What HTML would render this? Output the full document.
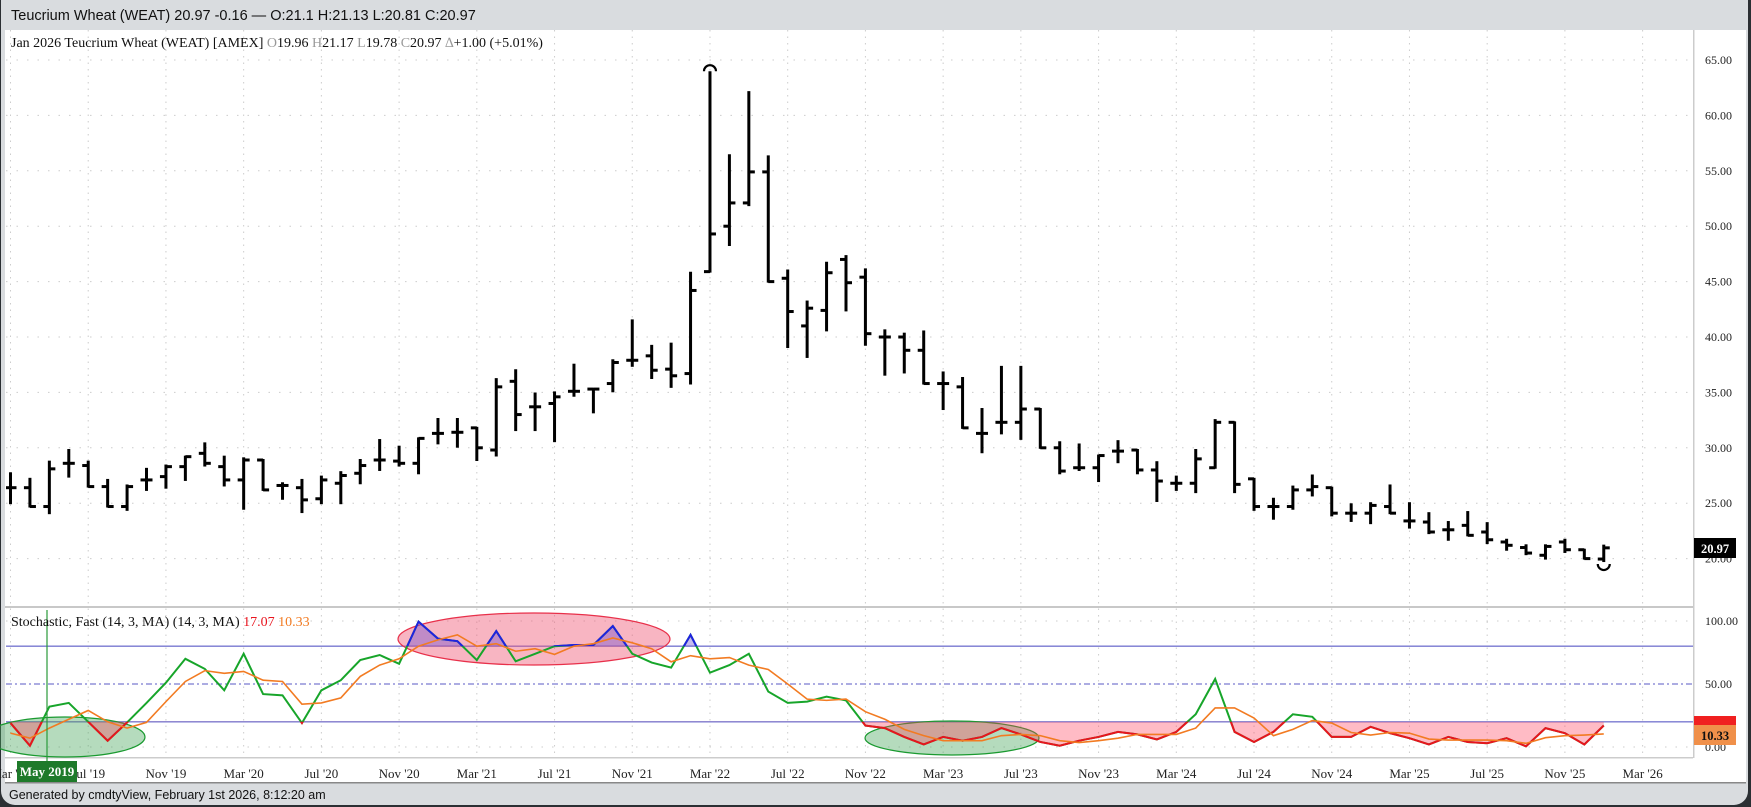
<!DOCTYPE html>
<html><head><meta charset="utf-8"><style>
html,body{margin:0;padding:0;background:#2b2f33;}
#wrap{position:relative;width:1751px;height:807px;overflow:hidden;background:#2b2f33;}
#frame{position:absolute;left:1px;top:0;width:1747px;height:805px;background:#d9dcdf;border-radius:0 0 14px 14px;}
svg{position:absolute;left:0;top:0;}
</style></head><body><div id="wrap"><div id="frame"></div>
<svg id="s" width="1751" height="807" xmlns="http://www.w3.org/2000/svg" font-family="Liberation Serif, serif"></svg>
</div>
<script>
const O=[26.4,26.4,24.7,28.6,28.4,26.5,24.7,27.1,27.4,28.3,29.5,28.3,27.1,28.9,26.6,26.4,25.4,26.8,27.7,28.9,28.8,28.6,31.3,31.4,31.8,29.8,36.0,33.7,34.0,35.1,35.3,35.8,37.9,38.3,37.1,36.7,45.9,50.0,52.1,54.9,45.3,41.0,42.4,47.0,45.4,40.0,40.0,38.8,35.8,35.5,31.3,32.3,32.3,33.5,30.0,28.2,28.2,29.7,29.8,28.0,26.8,26.8,28.2,32.3,27.2,24.7,24.7,26.2,26.4,24.1,24.1,24.7,23.4,23.3,22.6,23.0,22.4,21.5,21.0,20.3,21.5,20.8,19.96];
const H=[27.7,27.2,28.75,29.8,28.75,27.1,26.6,28.1,28.4,29.2,30.4,29.2,29.05,28.9,26.8,27.1,27.4,27.8,28.9,30.7,30.1,30.85,32.6,32.6,31.8,36.2,37.0,34.9,35.0,37.5,35.3,37.9,41.5,39.2,39.4,45.8,63.9,56.4,62.1,56.3,46.0,43.2,46.7,47.3,46.1,40.6,40.3,40.5,36.8,36.3,33.5,37.3,37.3,33.5,30.5,30.3,29.3,30.6,29.8,28.7,27.4,29.8,32.5,32.3,27.2,25.4,26.5,27.5,26.4,24.9,25.0,26.6,25.0,24.1,23.3,24.2,23.2,21.7,21.2,21.2,21.7,20.8,21.17];
const L=[25.0,24.7,24.1,27.4,26.5,24.7,24.4,26.2,26.4,27.1,28.4,26.6,24.5,26.2,25.4,24.2,25.0,25.0,26.8,28.0,28.4,27.7,30.4,30.1,28.9,29.3,31.6,31.6,30.6,34.7,33.2,35.1,37.4,36.3,35.5,35.8,45.9,48.3,51.9,45.0,39.1,38.2,40.6,42.4,39.3,36.6,36.8,35.8,33.5,31.8,29.6,31.3,30.8,30.0,27.7,28.0,27.0,28.7,27.7,25.2,26.2,26.0,28.2,26.0,24.4,23.6,24.5,25.7,23.9,23.4,23.2,24.1,22.8,22.3,21.7,22.1,21.4,20.8,20.4,20.0,20.6,20.0,19.78];
const C=[26.4,24.7,28.1,28.6,26.5,24.7,26.5,27.1,28.3,29.2,28.6,27.1,28.9,26.2,26.6,25.3,27.1,27.5,28.4,28.9,28.6,30.85,31.3,31.4,30.0,35.5,33.0,33.7,34.6,35.1,35.3,37.7,37.9,37.0,36.5,44.2,49.3,52.1,54.9,45.0,42.3,42.6,45.8,44.9,40.3,40.0,38.8,35.8,35.8,31.8,31.3,32.3,33.5,30.0,27.9,28.2,29.3,29.7,28.0,27.0,26.8,29.0,32.3,26.7,24.7,24.7,26.2,26.5,24.1,24.1,24.8,24.1,23.4,22.4,22.6,22.1,21.7,21.2,20.5,21.1,20.8,20.0,20.97];
const K=[19,1,32,35,20,5,19.5,35,51,70,62,45,74,42,41,19,45,53,69,73,66,99.5,86,84,69,92,68,74,80,81,81,96,74,67,63,89,59,65,74,44,35,36,40,37,17,15,8,2,8,5,8,15,10,4,1,5,8,12,10,6,12,26,54,12,4,12,26,24,8,8,16,11,7,2,8,4,3,7,0.5,15,11,2,17.07];
const D=[11,7,15,22,29,20,15,19.5,36,52,60.6,58.5,60,53,52,34,35,39,56,65,70,80,85,89,80,82,76,78,73.5,80,82,86.5,82.7,78,67.6,72.5,70,71,65,61.5,50,38,37,38,28,22,14,9,5,5,5,9,10,9,5,3.5,5,7,10,10,10,15,31,31,23,9,14,21,19,11.5,9.5,11.5,11,6.3,5.5,5.5,5.5,5,2.9,7.4,9,9.5,10.33];
const X=i=>10.5+i*19.43, PY=p=>60+(65-p)*11.08, SY=v=>747-v*1.26;
let s='';
// white panels
s+='<rect x="5" y="30" width="1741" height="753" fill="#fff"/>';
s+='<rect x="1693" y="30" width="1.5" height="728" fill="#ccc"/>';
s+='<rect x="5" y="606" width="1688" height="2" fill="#c8c8c8"/>';
s+='<rect x="5" y="757" width="1688" height="1.5" fill="#ccc"/>';
s+='<rect x="5" y="782" width="1741" height="1.5" fill="#888"/>';
// grids
for(let p=20;p<=65;p+=5){const y=PY(p);s+=`<line x1="6" x2="1693" y1="${y}" y2="${y}" stroke="#ccc" stroke-dasharray="1.5 9"/>`;s+=`<text x="1705" y="${y+4}" font-size="12" fill="#222">${p.toFixed(2)}</text>`;}
[100,0].forEach(v=>{const y=SY(v);s+=`<line x1="6" x2="1693" y1="${y}" y2="${y}" stroke="#ccc" stroke-dasharray="1.5 9"/>`;});
[[100,621],[50,684],[0,747]].forEach(a=>{s+=`<text x="1705" y="${a[1]+4}" font-size="12" fill="#222">${a[0].toFixed(2)}</text>`});
const mon=['Mar','Jul','Nov'];
for(let i=0;i<=84;i+=4){const x=X(i);s+=`<line x1="${x}" x2="${x}" y1="30" y2="757" stroke="#ccc" stroke-dasharray="1.5 5"/>`;
const yr=19+Math.floor((i+2)/12);const lab=mon[(i/4)%3]+" '"+yr;s+=`<text x="${x}" y="778" font-size="13" text-anchor="middle" fill="#222">${lab}</text>`;}
// stoch ref lines
s+=`<line x1="6" x2="1693" y1="${SY(80)}" y2="${SY(80)}" stroke="#7a7ad0" stroke-width="1.3"/>`;
s+=`<line x1="6" x2="1693" y1="${SY(20)}" y2="${SY(20)}" stroke="#7a7ad0" stroke-width="1.3"/>`;
s+=`<line x1="6" x2="1693" y1="${SY(50)}" y2="${SY(50)}" stroke="#7a7ad0" stroke-width="1.2" stroke-dasharray="6 3 2 3"/>`;
// ellipses
s+='<ellipse cx="534" cy="639" rx="136" ry="26" fill="rgba(240,90,120,0.45)" stroke="#e8304a" stroke-width="1.2"/>';
s+='<ellipse cx="65" cy="737" rx="80" ry="20" fill="rgba(70,165,90,0.4)" stroke="#1a9a30" stroke-width="1.2"/>';
s+='<ellipse cx="952" cy="738" rx="87" ry="17" fill="rgba(70,165,90,0.4)" stroke="#1a9a30" stroke-width="1.2"/>';
// bars
s+='<g clip-path="url(#cm)" stroke="#000" stroke-width="3">';
for(let i=0;i<O.length;i++){const x=X(i);s+=`<line x1="${x}" x2="${x}" y1="${PY(H[i])-1}" y2="${PY(L[i])+1}"/><line x1="${x-6}" x2="${x}" y1="${PY(O[i])}" y2="${PY(O[i])}"/><line x1="${x}" x2="${x+6}" y1="${PY(C[i])}" y2="${PY(C[i])}"/>`;}
s+='</g>';
s+=`<path d="M${X(36)-6},${PY(63.9)-1} a6,6 0 0 1 12,0" fill="none" stroke="#000" stroke-width="2.2"/>`;
s+=`<path d="M${X(82)-6},${PY(19.78)+3} a6,6 0 0 0 12,0" fill="none" stroke="#000" stroke-width="2.2"/>`;
// stochastic
let kp=K.map((v,i)=>X(i)+','+SY(v)).join(' '), dp=D.map((v,i)=>X(i)+','+SY(v)).join(' ');
s+='<defs><clipPath id="cm"><rect x="6" y="30" width="1687" height="576"/></clipPath><clipPath id="hi"><rect x="0" y="0" width="1693" height="'+SY(80)+'"/></clipPath><clipPath id="lo"><rect x="0" y="'+SY(20)+'" width="1693" height="60"/></clipPath></defs>';
const x0=X(0),x1=X(K.length-1);
s+=`<polygon clip-path="url(#hi)" points="${x0},${SY(80)} ${kp} ${x1},${SY(80)}" fill="rgba(90,60,210,0.35)"/>`;
s+=`<polygon clip-path="url(#lo)" points="${x0},${SY(20)} ${kp} ${x1},${SY(20)}" fill="rgba(255,60,90,0.35)"/>`;
s+=`<polyline points="${kp}" fill="none" stroke="#17a52a" stroke-width="2"/>`;
s+=`<polyline clip-path="url(#hi)" points="${kp}" fill="none" stroke="#1f22e0" stroke-width="2"/>`;
s+=`<polyline clip-path="url(#lo)" points="${kp}" fill="none" stroke="#e8141e" stroke-width="2"/>`;
s+=`<polyline points="${dp}" fill="none" stroke="#f27b22" stroke-width="1.6"/>`;
// may 2019 marker
s+='<line x1="47" x2="47" y1="610" y2="762" stroke="#2a9a3a" stroke-width="1.2"/>';
s+='<rect x="17" y="761" width="60" height="21" fill="#1e7a2a"/><text x="47" y="776" font-size="13" font-weight="bold" fill="#fff" text-anchor="middle">May 2019</text>';
// tags
s+='<rect x="1694" y="538" width="42" height="20" fill="#000"/><text x="1715" y="553" font-size="12.5" font-weight="bold" fill="#fff" text-anchor="middle">20.97</text>';
s+='<rect x="1694" y="716" width="42" height="10" fill="#f02020"/><rect x="1694" y="725" width="42" height="20" fill="#f0904a"/><text x="1715" y="740" font-size="12.5" font-weight="bold" fill="#111" text-anchor="middle">10.33</text>';
// texts
s+='<text x="11" y="20" font-family="Liberation Sans, sans-serif" font-size="14.5" fill="#111">Teucrium Wheat (WEAT) 20.97 -0.16 — O:21.1 H:21.13 L:20.81 C:20.97</text>';
s+='<text x="11" y="47" font-size="14" fill="#111">Jan 2026 Teucrium Wheat (WEAT) [AMEX] <tspan fill="#999">O</tspan>19.96 <tspan fill="#999">H</tspan>21.17 <tspan fill="#999">L</tspan>19.78 <tspan fill="#999">C</tspan>20.97 <tspan fill="#999">∆</tspan>+1.00 (+5.01%)</text>';
s+='<text x="11" y="626" font-size="14" fill="#111">Stochastic, Fast (14, 3, MA)  (14, 3, MA) <tspan fill="#e8141e">17.07</tspan> <tspan fill="#f27b22">10.33</tspan></text>';
s+='<text x="9" y="799" font-family="Liberation Sans, sans-serif" font-size="12.5" fill="#111">Generated by cmdtyView, February 1st 2026, 8:12:20 am</text>';
document.getElementById('s').innerHTML=s;
</script></body></html>
